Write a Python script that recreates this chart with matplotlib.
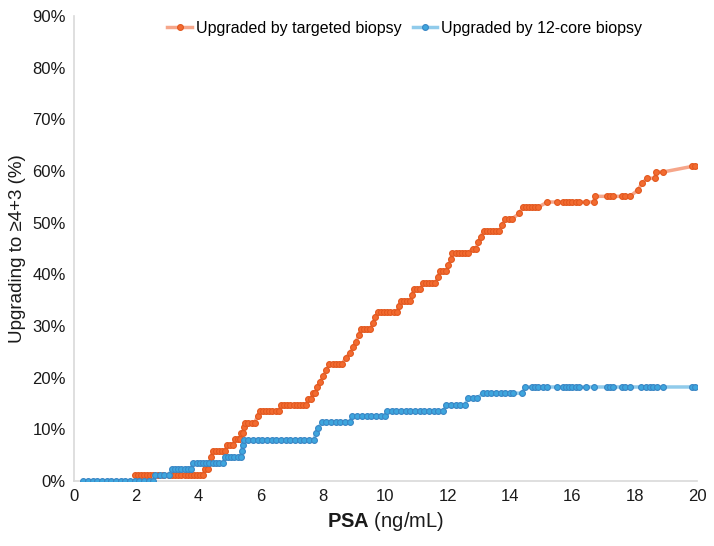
import matplotlib
matplotlib.use("Agg")
import matplotlib.pyplot as plt
from matplotlib.ticker import FuncFormatter

plt.rcParams['font.family'] = ['Liberation Sans', 'DejaVu Sans']
plt.rcParams['mathtext.fontset'] = 'custom'
plt.rcParams['mathtext.bf'] = 'Liberation Sans:bold'
plt.rcParams['mathtext.rm'] = 'Liberation Sans'

# targeted biopsy (orange)
tgt_x = [1.95, 2.05, 2.15, 2.25, 2.35, 2.45, 2.55, 2.7, 2.85, 3.05, 3.15, 3.25, 3.35, 3.45,
         3.55, 3.65, 3.75, 3.85, 3.95, 4.05, 4.15, 4.2, 4.3, 4.35, 4.4, 4.45, 4.55, 4.65,
         4.75, 4.85, 4.9, 5.0, 5.1, 5.17, 5.25, 5.32, 5.36, 5.42, 5.46, 5.5, 5.6, 5.7, 5.8,
         5.9, 5.97, 6.07, 6.17, 6.27, 6.37, 6.47, 6.57, 6.65, 6.75, 6.85, 6.95, 7.05, 7.15,
         7.25, 7.35, 7.45, 7.52, 7.6, 7.66, 7.74, 7.8, 7.9, 8.0, 8.1, 8.2, 8.3, 8.4, 8.5,
         8.6, 8.72, 8.86, 8.96, 9.06, 9.14, 9.2, 9.3, 9.4, 9.5, 9.6, 9.66, 9.76, 9.86, 9.96,
         10.06, 10.16, 10.26, 10.36, 10.42, 10.5, 10.6, 10.7, 10.8, 10.85, 10.92, 11.02,
         11.12, 11.2, 11.3, 11.4, 11.5, 11.6, 11.68, 11.75, 11.85, 11.95, 12.02, 12.1, 12.15,
         12.25, 12.35, 12.45, 12.55, 12.65, 12.8, 12.9, 12.98, 13.05, 13.15, 13.25, 13.35,
         13.45, 13.55, 13.65, 13.74, 13.84, 13.95, 14.05, 14.3, 14.4, 14.5, 14.6, 14.7, 14.8,
         14.9, 15.2, 15.5, 15.7, 15.8, 15.9, 16.0, 16.1, 16.2, 16.45, 16.7, 16.72, 17.1, 17.2,
         17.3, 17.6, 17.7, 17.85, 18.1, 18.23, 18.4, 18.65, 18.68, 18.9, 19.85, 19.95]
tgt_y = [1.2, 1.2, 1.2, 1.2, 1.2, 1.2, 1.2, 1.2, 1.2, 1.2, 1.2, 1.2, 1.2, 1.2,
         1.2, 1.2, 1.2, 1.2, 1.2, 1.2, 1.2, 2.4, 2.4, 3.5, 4.7, 5.8, 5.8, 5.8,
         5.8, 5.8, 6.9, 6.9, 6.9, 8.1, 8.1, 8.1, 9.3, 9.3, 10.4, 11.3, 11.3, 11.3, 11.3,
         12.6, 13.6, 13.6, 13.6, 13.6, 13.6, 13.6, 13.6, 14.7, 14.7, 14.7, 14.7, 14.7, 14.7,
         14.7, 14.7, 14.7, 15.8, 15.8, 17.0, 17.0, 18.2, 19.2, 20.3, 21.5, 22.6, 22.6, 22.6, 22.6,
         22.6, 23.8, 24.8, 26.0, 27.0, 28.2, 29.4, 29.4, 29.4, 29.4, 30.5, 31.7, 32.7, 32.7, 32.7,
         32.7, 32.7, 32.7, 32.7, 33.8, 34.8, 34.8, 34.8, 34.8, 36.0, 37.2, 37.2,
         37.2, 38.3, 38.3, 38.3, 38.3, 38.3, 39.5, 40.6, 40.6, 40.6, 41.8, 42.9, 44.1,
         44.1, 44.1, 44.1, 44.1, 44.1, 45.0, 45.0, 46.2, 47.2, 48.4, 48.4, 48.4,
         48.4, 48.4, 48.4, 49.5, 50.7, 50.7, 50.7, 51.8, 53.0, 53.0, 53.0, 53.0, 53.0,
         53.0, 54.0, 54.0, 54.0, 54.0, 54.0, 54.0, 54.0, 54.0, 54.0, 54.0, 55.1, 55.1, 55.1,
         55.1, 55.1, 55.1, 55.1, 56.3, 57.6, 58.6, 58.6, 59.8, 59.8, 60.9, 60.9]

# 12-core biopsy (blue)
core_x = [0.3, 0.45, 0.6, 0.75, 0.9, 1.05, 1.2, 1.35, 1.5, 1.65, 1.8, 1.95, 2.1, 2.25, 2.4,
          2.54, 2.6, 2.75, 2.9, 3.05, 3.15, 3.25, 3.35, 3.45, 3.55, 3.65, 3.75, 3.82, 3.95,
          4.05, 4.15, 4.25, 4.35, 4.45, 4.55, 4.65, 4.78, 4.85, 4.95, 5.05, 5.15, 5.25, 5.35,
          5.38, 5.41, 5.45, 5.6, 5.75, 5.9, 6.05, 6.2, 6.35, 6.5, 6.65, 6.8, 6.95, 7.1, 7.25,
          7.4, 7.55, 7.7, 7.78, 7.84, 7.96, 8.1, 8.25, 8.4, 8.55, 8.7, 8.85, 8.93, 9.1, 9.25,
          9.4, 9.55, 9.7, 9.85, 10.0, 10.05, 10.2, 10.35, 10.5, 10.65, 10.8, 10.95, 11.1,
          11.25, 11.4, 11.55, 11.7, 11.85, 11.95, 12.1, 12.25, 12.4, 12.55, 12.65, 12.8, 12.94,
          13.13, 13.25, 13.4, 13.55, 13.7, 13.85, 14.0, 14.1, 14.38, 14.48, 14.7, 14.8, 14.9,
          15.05, 15.2, 15.5, 15.7, 15.8, 15.9, 16.0, 16.1, 16.2, 16.45, 16.7, 17.1, 17.2, 17.3,
          17.6, 17.7, 17.85, 18.2, 18.35, 18.5, 18.6, 18.7, 18.9, 19.85, 19.95]
core_y = [0, 0, 0, 0, 0, 0, 0, 0, 0, 0, 0, 0, 0, 0, 0,
          0, 1.2, 1.2, 1.2, 1.2, 2.4, 2.4, 2.4, 2.4, 2.4, 2.4, 2.4, 3.5, 3.5,
          3.5, 3.5, 3.5, 3.5, 3.5, 3.5, 3.5, 3.5, 4.7, 4.7, 4.7, 4.7, 4.7, 4.7,
          5.9, 7.0, 8.0, 8.0, 8.0, 8.0, 8.0, 8.0, 8.0, 8.0, 8.0, 8.0, 8.0, 8.0, 8.0,
          8.0, 8.0, 8.0, 9.3, 10.2, 11.4, 11.4, 11.4, 11.4, 11.4, 11.4, 11.4, 12.6, 12.6, 12.6,
          12.6, 12.6, 12.6, 12.6, 12.6, 13.5, 13.5, 13.5, 13.5, 13.5, 13.5, 13.5, 13.5,
          13.5, 13.5, 13.5, 13.5, 13.5, 14.7, 14.7, 14.7, 14.7, 14.7, 16.0, 16.0, 16.0,
          17.0, 17.0, 17.0, 17.0, 17.0, 17.0, 17.0, 17.0, 17.0, 18.2, 18.2, 18.2, 18.2,
          18.2, 18.2, 18.2, 18.2, 18.2, 18.2, 18.2, 18.2, 18.2, 18.2, 18.2, 18.2, 18.2, 18.2,
          18.2, 18.2, 18.2, 18.2, 18.2, 18.2, 18.2, 18.2, 18.2, 18.2, 18.2]

x_ticks = [0, 2, 4, 6, 8, 10, 12, 14, 16, 18, 20]
y_ticks = [0, 10, 20, 30, 40, 50, 60, 70, 80, 90]

fig = plt.figure(figsize=(7.14, 5.46), dpi=100)
ax = fig.add_axes([0.1036, 0.119, 0.8726, 0.8517])

ax.plot(tgt_x, tgt_y, color='#F6A68A', lw=2.5, marker='o', ms=4.2,
        mfc='#F26B30', mec='#E2581F', mew=0.8, label='Upgraded by targeted biopsy', zorder=3)
ax.plot(core_x, core_y, color='#90CBEB', lw=2.5, marker='o', ms=4.2,
        mfc='#3EA6DE', mec='#3A86C4', mew=0.8, label='Upgraded by 12-core biopsy', zorder=4)

ax.set_xlim(0, 20)
ax.set_ylim(0, 90)
ax.set_xticks(x_ticks)
ax.set_yticks(y_ticks)
ax.yaxis.set_major_formatter(FuncFormatter(lambda v, p: f"{v:.0f}%"))
ax.tick_params(length=0, labelsize=12, colors='#1a1a1a', pad=6)

for s in ['top', 'right']:
    ax.spines[s].set_visible(False)
for s in ['left', 'bottom']:
    ax.spines[s].set_color('#D9D9D9')
    ax.spines[s].set_linewidth(1.2)

ax.set_ylabel('Upgrading to ≥4+3 (%)', fontsize=13.5, color='#1a1a1a')
ax.yaxis.set_label_coords(-0.077, 0.5)
ax.set_xlabel(r'$\mathbf{PSA}$ (ng/mL)', fontsize=14.5, color='#1a1a1a', labelpad=4)

ax.legend(loc='upper center', bbox_to_anchor=(0.531, 1.02), ncol=2, frameon=False,
          fontsize=11.5, handlelength=1.55, columnspacing=0.7, handletextpad=0.25)

fig.savefig('out.png', dpi=100)
